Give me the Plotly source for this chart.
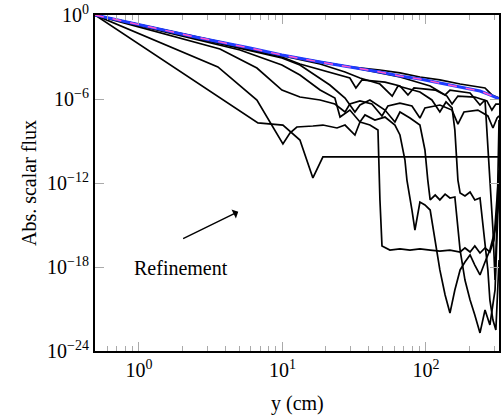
import plotly.graph_objects as go

# ---- data (x in cm, flux as log10 exponent) ----
ref_x = [0.494, 1.0, 2.66, 5.94, 9.92, 18.3, 29.5, 47.8, 65.9, 90.8, 125, 173, 203, 238, 279, 323]
ref_e = [0, -0.71, -1.64, -2.36, -2.86, -3.36, -3.71, -4.07, -4.36, -4.57, -4.86, -5.14, -5.29, -5.43, -5.71, -6.0]

a_x = [0.494, 1.0, 2.66, 5.94, 9.92, 18.3, 29.5, 47.8, 65.9, 90.8, 125, 173, 219, 258, 288, 323]
a_e = [0, -0.71, -1.64, -2.36, -2.86, -3.36, -3.71, -3.93, -4.14, -4.43, -4.64, -4.93, -5.07, -5.21, -5.71, -5.93]

b_x = [0.494, 9.92, 13.24, 21.4, 29.5, 32.5, 35.8, 51.8, 65.9, 74.9, 82.5, 116, 140, 152, 167, 219, 266, 288, 307, 323]
b_e = [0, -3.0, -3.5, -4.07, -4.5, -5.21, -4.64, -4.79, -5.07, -5.71, -5.21, -5.36, -5.79, -6.36, -5.79, -5.86, -6.14, -6.79, -6.36, -6.36]

c_x = [0.494, 3.67, 6.64, 9.92, 13.24, 18.3, 23.2, 27.3, 29.5, 34.7, 42.0, 49.4, 54.3, 65.9, 79.9, 90.8, 98.4, 125, 152, 167, 184, 230, 270, 293, 313, 323]
c_e = [0, -2.43, -3.79, -5.36, -5.86, -6.07, -6.36, -6.93, -6.36, -6.14, -6.36, -7.21, -6.5, -6.29, -6.5, -7.36, -6.64, -6.43, -6.79, -7.79, -6.93, -6.79, -7.21, -8.07, -7.36, -7.21]

d_x = [0.494, 3.55, 6.64, 10.08, 11.28, 12.6, 16.3, 19.15, 24.0, 27.3, 32.0, 34.7, 40.7, 46.3, 47.8, 49.4, 56.1, 65.9, 77.4, 90.8, 107, 125, 147, 173, 187, 203, 219, 238, 258, 279, 298, 313, 323]
d_e = [0, -3.71, -6.07, -9.21, -8.43, -8.0, -7.93, -7.86, -8.07, -7.86, -8.57, -7.64, -7.86, -8.21, -13.21, -16.5, -16.79, -16.71, -16.79, -16.71, -16.79, -16.86, -16.79, -16.93, -16.64, -16.93, -16.5, -17.0, -16.64, -16.93, -16.07, -13.21, -11.07]

k_x = [0.494, 6.75, 10.08, 13.24, 16.3, 19.15, 323]
k_e = [0, -7.71, -7.86, -8.93, -11.64, -10.14, -10.14]

e_x = [0.494, 5.06, 9.92, 13.24, 18.3, 23.2, 25.2, 29.5, 34.7, 37.6, 44.1, 51.8, 60.8, 65.9, 71.4, 73.7, 79.9, 83.8, 90.8, 98.4, 107, 116, 125, 136, 147, 159, 173, 187, 203, 219, 238, 258, 279, 303, 323]
e_e = [0, -2.5, -3.57, -4.29, -5.36, -5.93, -7.29, -6.79, -7.64, -7.14, -7.5, -7.29, -7.86, -8.57, -10.36, -11.79, -13.93, -15.36, -13.36, -13.57, -13.93, -16.07, -18.21, -20.0, -21.29, -19.64, -18.21, -17.64, -17.14, -17.86, -18.57, -17.64, -16.79, -15.36, -13.21]

f_x = [0.494, 9.92, 13.24, 21.4, 27.3, 32.0, 34.7, 40.7, 51.8, 60.8, 65.9, 77.4, 90.8, 98.4, 103, 107, 116, 125, 136, 147, 159, 173, 187, 203, 219, 238, 258, 279, 303, 323]
f_e = [0, -3.07, -3.57, -5.0, -5.93, -6.93, -6.43, -6.07, -6.79, -7.64, -6.93, -7.36, -7.86, -9.64, -11.79, -13.21, -12.86, -13.21, -12.79, -13.07, -13.0, -16.79, -18.93, -20.36, -21.43, -22.71, -21.07, -22.14, -19.64, -11.79]

g_x = [0.494, 9.92, 18.3, 27.3, 34.7, 47.8, 58.2, 63.8, 90.8, 110, 125, 138, 152, 159, 167, 173, 187, 203, 219, 238, 258, 270, 279, 293, 307, 323]
g_e = [0, -2.93, -3.5, -4.07, -4.5, -4.93, -5.79, -5.07, -5.5, -6.07, -6.93, -6.21, -6.64, -8.21, -11.79, -12.71, -12.93, -12.64, -13.21, -13.07, -16.07, -18.21, -20.36, -21.79, -22.5, -17.5]

h_x = [0.494, 9.92, 29.5, 65.9, 107, 136, 147, 203, 238, 258, 279, 293, 303, 313, 323]
h_e = [0, -2.86, -3.71, -4.43, -5.07, -5.71, -5.36, -5.57, -6.43, -6.07, -11.79, -15.36, -18.93, -14.64, -7.5]

x_tick_vals = [1, 10, 100]
x_tick_text = ["10<sup>0</sup>", "10<sup>1</sup>", "10<sup>2</sup>"]
y_tick_vals = [1e0, 1e-6, 1e-12, 1e-18, 1e-24]
y_tick_text = ["10<sup>0</sup>", "10<sup>\u22126</sup>", "10<sup>\u221212</sup>",
               "10<sup>\u221218</sup>", "10<sup>\u221224</sup>"]
x_minor = [0.5, 0.6, 0.7, 0.8, 0.9, 2, 3, 4, 5, 6, 7, 8, 9,
           20, 30, 40, 50, 60, 70, 80, 90, 200, 300]

SERIF = "Liberation Serif"

fig = go.Figure()
black_sets = [(k_x, k_e), (d_x, d_e), (c_x, c_e), (e_x, e_e), (f_x, f_e),
              (g_x, g_e), (h_x, h_e), (b_x, b_e), (a_x, a_e)]
for xs, es in black_sets:
    fig.add_trace(go.Scatter(x=xs, y=[10 ** v for v in es], mode="lines",
                             line=dict(color="black", width=1.7), showlegend=False))
fig.add_trace(go.Scatter(x=ref_x, y=[10 ** v for v in ref_e], mode="lines",
                         line=dict(color="#1f3cff", width=3), showlegend=False))
fig.add_trace(go.Scatter(x=ref_x, y=[10 ** v for v in ref_e], mode="lines",
                         line=dict(color="#ff55cc", width=1.5, dash="dash"), showlegend=False))

fig.add_annotation(x=0.692, y=-14.05, ax=0.2976, ay=-16.02, xref="x", yref="y",
                   axref="x", ayref="y", showarrow=True, arrowhead=1, arrowsize=1.2,
                   arrowwidth=1.4, arrowcolor="black", text="")
fig.add_annotation(x=0.2927, y=-18.07, xref="x", yref="y", showarrow=False,
                   text="Refinement", font=dict(family=SERIF, size=20, color="black"))
# axis titles
fig.add_annotation(x=0.502, y=-0.155, xref="paper", yref="paper", showarrow=False,
                   yanchor="middle", text="y (cm)",
                   font=dict(family=SERIF, size=20, color="black"))
fig.add_annotation(x=-0.1955, y=0.5, xref="paper", yref="paper", showarrow=False,
                   textangle=-90, text="Abs. scalar flux",
                   font=dict(family=SERIF, size=20, color="black"))

fig.update_layout(
    width=501, height=419,
    margin=dict(l=95, r=2, t=15, b=68, autoexpand=False),
    paper_bgcolor="white", plot_bgcolor="white",
    font=dict(family=SERIF, size=20, color="black"),
    xaxis=dict(type="log", range=[-0.306, 2.509], showgrid=False, zeroline=False,
               automargin=False,
               tickvals=x_tick_vals, ticktext=x_tick_text, ticks="inside", ticklen=9,
               tickcolor="#aaaaaa", tickwidth=1, mirror="allticks", showline=True,
               linecolor="black", linewidth=2,
               minor=dict(tickvals=x_minor, ticks="inside", ticklen=5, tickcolor="#aaaaaa")),
    yaxis=dict(type="log", range=[-24, 0], showgrid=False, zeroline=False,
               automargin=False,
               tickvals=y_tick_vals, ticktext=y_tick_text, ticks="inside", ticklen=9,
               tickcolor="#aaaaaa", tickwidth=1, mirror="allticks", showline=True,
               linecolor="black", linewidth=2),
)

fig.write_html("out.html")
